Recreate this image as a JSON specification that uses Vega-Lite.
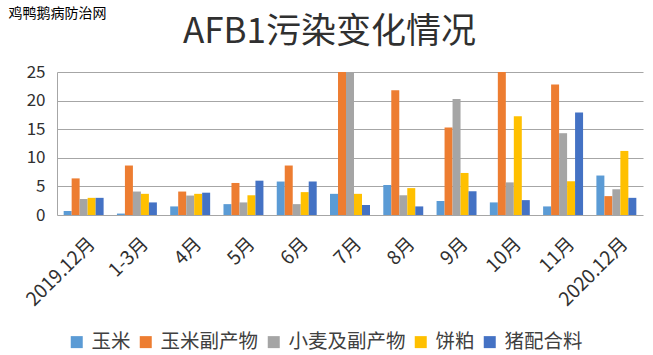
{
  "$schema": "https://vega.github.io/schema/vega-lite/v6.json",
  "width": 586,
  "height": 143,
  "autosize": {"type": "none"},
  "padding": {"left": 57, "top": 72, "right": 10, "bottom": 140},
  "background": "white",
  "title": {
    "text": "AFB1污染变化情况",
    "anchor": "start",
    "frame": "group",
    "dx": 126,
    "dy": 72,
    "offset": 0,
    "baseline": "alphabetic",
    "fontSize": 35,
    "font": "Noto Sans CJK SC",
    "fontWeight": "normal",
    "color": "#303030"
  },
  "config": {
    "view": {"stroke": null},
    "font": "Noto Sans CJK SC"
  },
  "data": {
    "values": [
      {"month": "2019.12月", "type": "玉米", "value": 0.7},
      {"month": "2019.12月", "type": "玉米副产物", "value": 6.4},
      {"month": "2019.12月", "type": "小麦及副产物", "value": 2.8},
      {"month": "2019.12月", "type": "饼粕", "value": 3.0},
      {"month": "2019.12月", "type": "猪配合料", "value": 3.0},
      {"month": "1-3月", "type": "玉米", "value": 0.25},
      {"month": "1-3月", "type": "玉米副产物", "value": 8.65},
      {"month": "1-3月", "type": "小麦及副产物", "value": 4.1},
      {"month": "1-3月", "type": "饼粕", "value": 3.7},
      {"month": "1-3月", "type": "猪配合料", "value": 2.2},
      {"month": "4月", "type": "玉米", "value": 1.5},
      {"month": "4月", "type": "玉米副产物", "value": 4.1},
      {"month": "4月", "type": "小麦及副产物", "value": 3.4},
      {"month": "4月", "type": "饼粕", "value": 3.7},
      {"month": "4月", "type": "猪配合料", "value": 3.9},
      {"month": "5月", "type": "玉米", "value": 1.9},
      {"month": "5月", "type": "玉米副产物", "value": 5.6},
      {"month": "5月", "type": "小麦及副产物", "value": 2.2},
      {"month": "5月", "type": "饼粕", "value": 3.45},
      {"month": "5月", "type": "猪配合料", "value": 6.0},
      {"month": "6月", "type": "玉米", "value": 5.85},
      {"month": "6月", "type": "玉米副产物", "value": 8.65},
      {"month": "6月", "type": "小麦及副产物", "value": 1.9},
      {"month": "6月", "type": "饼粕", "value": 4.0},
      {"month": "6月", "type": "猪配合料", "value": 5.85},
      {"month": "7月", "type": "玉米", "value": 3.7},
      {"month": "7月", "type": "玉米副产物", "value": 25},
      {"month": "7月", "type": "小麦及副产物", "value": 25},
      {"month": "7月", "type": "饼粕", "value": 3.7},
      {"month": "7月", "type": "猪配合料", "value": 1.75},
      {"month": "8月", "type": "玉米", "value": 5.25},
      {"month": "8月", "type": "玉米副产物", "value": 21.8},
      {"month": "8月", "type": "小麦及副产物", "value": 3.45},
      {"month": "8月", "type": "饼粕", "value": 4.7},
      {"month": "8月", "type": "猪配合料", "value": 1.5},
      {"month": "9月", "type": "玉米", "value": 2.45},
      {"month": "9月", "type": "玉米副产物", "value": 15.3},
      {"month": "9月", "type": "小麦及副产物", "value": 20.3},
      {"month": "9月", "type": "饼粕", "value": 7.35},
      {"month": "9月", "type": "猪配合料", "value": 4.15},
      {"month": "10月", "type": "玉米", "value": 2.2},
      {"month": "10月", "type": "玉米副产物", "value": 25},
      {"month": "10月", "type": "小麦及副产物", "value": 5.7},
      {"month": "10月", "type": "饼粕", "value": 17.25},
      {"month": "10月", "type": "猪配合料", "value": 2.6},
      {"month": "11月", "type": "玉米", "value": 1.5},
      {"month": "11月", "type": "玉米副产物", "value": 22.8},
      {"month": "11月", "type": "小麦及副产物", "value": 14.3},
      {"month": "11月", "type": "饼粕", "value": 5.9},
      {"month": "11月", "type": "猪配合料", "value": 17.9},
      {"month": "2020.12月", "type": "玉米", "value": 6.9},
      {"month": "2020.12月", "type": "玉米副产物", "value": 3.3},
      {"month": "2020.12月", "type": "小麦及副产物", "value": 4.5},
      {"month": "2020.12月", "type": "饼粕", "value": 11.2},
      {"month": "2020.12月", "type": "猪配合料", "value": 3.0}
    ]
  },
  "mark": {"type": "bar", "clip": true},
  "encoding": {
    "x": {
      "field": "month",
      "type": "nominal",
      "sort": null,
      "scale": {"paddingInner": 0.25, "paddingOuter": 0.125},
      "axis": {
        "title": null,
        "labelAngle": -45,
        "labelFontSize": 19,
        "labelColor": "#303030",
        "labelPadding": 19,
        "labelOffset": 2,
        "ticks": false,
        "domain": false
      }
    },
    "xOffset": {
      "field": "type",
      "type": "nominal",
      "sort": ["玉米", "玉米副产物", "小麦及副产物", "饼粕", "猪配合料"],
      "scale": {"paddingInner": 0, "paddingOuter": 0}
    },
    "y": {
      "field": "value",
      "type": "quantitative",
      "scale": {"domain": [0, 25], "nice": false},
      "axis": {
        "values": [0, 5, 10, 15, 20, 25],
        "title": "鸡鸭鹅病防治网",
        "titleAngle": 0,
        "titleAlign": "left",
        "titleBaseline": "top",
        "titleX": -49,
        "titleY": -66,
        "titleFontSize": 14,
        "titleFontWeight": "normal",
        "titleColor": "#000000",
        "labelFontSize": 17,
        "labelColor": "#303030",
        "labelPadding": 12,
        "ticks": false,
        "domain": true,
        "domainColor": "#a6a6a6",
        "gridColor": "#a6a6a6",
        "gridWidth": 1.2
      }
    },
    "color": {
      "field": "type",
      "type": "nominal",
      "sort": ["玉米", "玉米副产物", "小麦及副产物", "饼粕", "猪配合料"],
      "scale": {
        "domain": ["玉米", "玉米副产物", "小麦及副产物", "饼粕", "猪配合料"],
        "range": ["#5B9BD5", "#ED7D31", "#A5A5A5", "#FFC000", "#4472C4"]
      },
      "legend": {
        "title": null,
        "orient": "none",
        "direction": "horizontal",
        "legendX": 10,
        "legendY": 260,
        "symbolType": "square",
        "symbolSize": 144,
        "symbolStrokeWidth": 0,
        "labelFontSize": 19.5,
        "labelColor": "#404040",
        "labelOffset": 5,
        "columnPadding": 5
      }
    }
  }
}
